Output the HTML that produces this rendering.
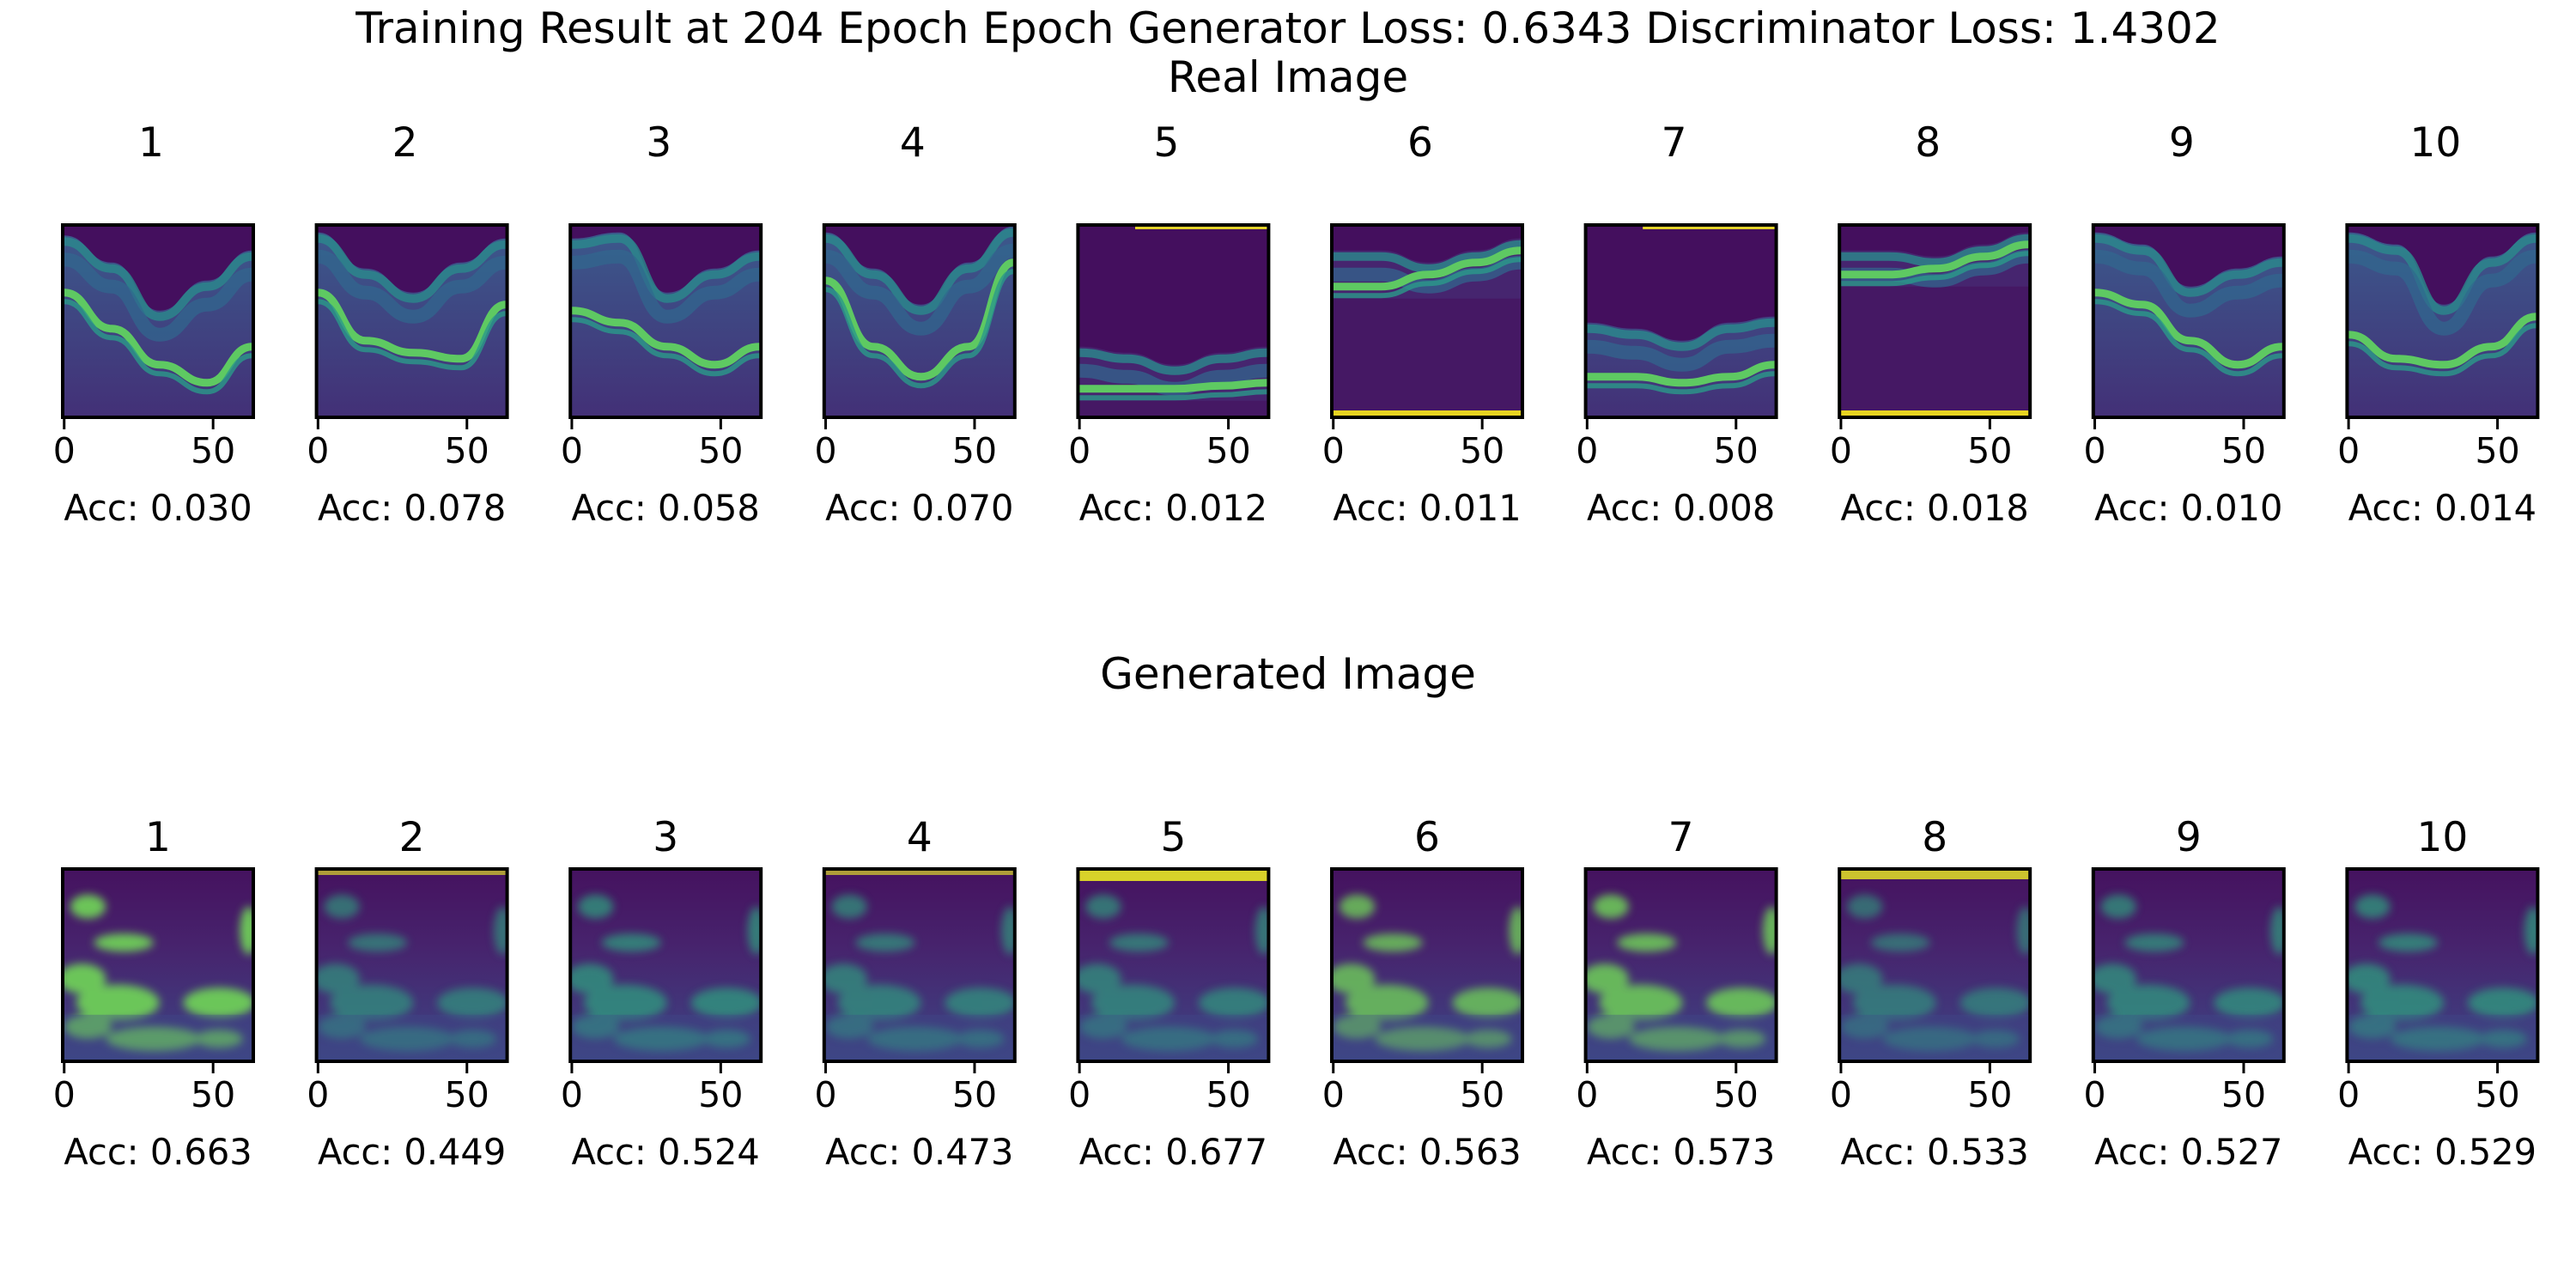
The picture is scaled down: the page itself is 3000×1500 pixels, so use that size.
<!DOCTYPE html>
<html><head><meta charset="utf-8">
<style>
html,body{margin:0;padding:0;background:#fff;}
svg{display:block;font-family:"DejaVu Sans","Liberation Sans",sans-serif;}
</style></head>
<body>
<svg id="fig" width="3000" height="1500" viewBox="0 0 3000 1500" xmlns="http://www.w3.org/2000/svg">
<rect width="3000" height="1500" fill="#fff"/>
<text x="1500" y="50" font-size="50" text-anchor="middle">Training Result at 204 Epoch Epoch Generator Loss: 0.6343 Discriminator Loss: 1.4302</text>
<text x="1500" y="107" font-size="50" text-anchor="middle">Real Image</text>
<text x="1500" y="802" font-size="50" text-anchor="middle">Generated Image</text>
<defs>
<linearGradient id="gDeep" x1="0" y1="0" x2="0" y2="1"><stop offset="0" stop-color="#3b5a8c"/><stop offset="1" stop-color="#433077"/></linearGradient>
<linearGradient id="gGen" x1="0" y1="0" x2="0" y2="1"><stop offset="0" stop-color="#45125f"/><stop offset="0.4" stop-color="#47236d"/><stop offset="1" stop-color="#3d4584"/></linearGradient>
<filter id="blur" x="-20%" y="-20%" width="140%" height="140%"><feGaussianBlur stdDeviation="5"/></filter>
</defs>
<g id="panels"></g>
</svg>
<script>
const panelLabels = ["1","2","3","4","5","6","7","8","9","10"];
const realAcc = ["0.030","0.078","0.058","0.070","0.012","0.011","0.008","0.018","0.010","0.014"];
const genAcc = ["0.663","0.449","0.524","0.473","0.677","0.563","0.573","0.533","0.527","0.529"];
const tickValues = [0, 50];
// tissue top boundary at x = 0,16,32,48,63 (image rows)
const realTop = [[3,12,28,18,8],[2,14,22,12,4],[4,2,22,14,8],[2,14,26,12,0],[40,42,46,42,40],[8,8,12,8,4],[32,34,38,32,30],[8,8,10,6,2],[2,6,20,14,10],[2,6,26,10,2]];
const realBand = [[22,34,46,52,40],[22,38,42,44,26],[28,32,40,46,40],[18,40,50,40,12],[54,54,54,53,52],[20,20,16,12,8],[50,50,52,50,46],[16,16,14,10,6],[22,26,38,46,40],[36,44,46,40,30]];
const realEdgeLine = ["none","none","none","none","top","bottom","top","bottom","none","none"];
const genBright = [1.0,0.45,0.6,0.5,0.5,0.75,0.85,0.4,0.55,0.6];
const genTopBar = [0,0.3,0,0.3,1,0,0,0.8,0,0];

const NS = "http://www.w3.org/2000/svg";
const X0 = 73, DX = 295.6, W = 222, H = 224;
const rowTop = [262, 1012];
const g = document.getElementById('panels');
function el(tag, attrs, parent){const e=document.createElementNS(NS,tag);for(const k in attrs)e.setAttribute(k,attrs[k]);(parent||g).appendChild(e);return e;}
function sx(v){return (v+0.5)/64*W;}
function sy(v){return (v+0.5)/64*H;}
const xs=[0,16,32,48,63];
function curve(ys,off){let d="";ys.forEach((y,i)=>{const px=sx(xs[i]),py=sy(y+(off||0));if(i==0)d+=`M${-2},${py} L${px},${py}`;else{const ppx=sx(xs[i-1]),ppy=sy(ys[i-1]+(off||0));const mx=(ppx+px)/2;d+=` C${mx},${ppy} ${mx},${py} ${px},${py}`;}});d+=` L${W+2},${sy(ys[ys.length-1]+(off||0))}`;return d;}

for(let r=0;r<2;r++){
 for(let i=0;i<10;i++){
  const x=X0+i*DX, y=rowTop[r];
  const pg=el('g',{transform:`translate(${x},${y})`});
  
  
  const cid='clip'+r+'_'+i;
  const cp=el('clipPath',{id:cid},pg);el('rect',{x:0,y:0,width:W,height:H},cp);
  const im=el('g',{'clip-path':`url(#${cid})`},pg);
  
  
  if(r==0){
   const dark=(i==4||i==5||i==7);
   el('rect',{x:0,y:0,width:W,height:H,fill:dark?'#46256f':'url(#gDeep)'},im);
   if(dark) el('rect',{x:0,y:sy(realBand[i][0]+4),width:W,height:H,fill:'#44135f',opacity:0.7},im);
   el('path',{d:curve(realTop[i],0)+` L${W+2},-2 L-2,-2 Z`,fill:'#440f5e'},im);
   el('path',{d:curve(realTop[i],2),fill:'none',stroke:'#2a8a8c','stroke-width':10,opacity:0.8},im);
   el('path',{d:curve(realTop[i],8),fill:'none',stroke:'#31688e','stroke-width':16,opacity:0.7},im);
   el('path',{d:curve(realBand[i],0),fill:'none',stroke:'#5ec962','stroke-width':9},im);
   el('path',{d:curve(realBand[i],3),fill:'none',stroke:'#2a9a8a','stroke-width':6,opacity:0.8},im);
   if(realEdgeLine[i]=='top') el('rect',{x:W*0.3,y:0,width:W*0.7,height:5,fill:'#e3d22a'},im);
   if(realEdgeLine[i]=='bottom') el('rect',{x:0,y:H-8,width:W,height:8,fill:'#e8d520'},im);
  } else {
   const b=genBright[i];
   el('rect',{x:0,y:0,width:W,height:H,fill:'url(#gGen)'},im);
   const bl=el('g',{filter:'url(#blur)',opacity:0.35+0.6*b},im);
   const blobs=[[8,12,6,4],[20,24,10,3],[6,36,8,5],[18,44,14,6],[52,44,12,5],[8,52,8,4],[30,56,16,4],[52,56,8,3],[62,20,3,8]];
   blobs.forEach(q=>el('ellipse',{cx:sx(q[0]),cy:sy(q[1]),rx:q[2]/64*W,ry:q[3]/64*H,fill:b>0.7?'#6ece58':'#2fa37f'},bl));
   el('rect',{x:0,y:sy(48),width:W,height:H,fill:'#3e4a89',opacity:0.35},im);
   if(genTopBar[i]>0) el('rect',{x:0,y:0,width:W,height:4+10*genTopBar[i],fill:'#d8d22a',opacity:0.6+0.4*genTopBar[i]},im);
  }
  el('rect',{x:0,y:0,width:W,height:H,fill:'none',stroke:'#000','stroke-width':4},pg);
  tickValues.forEach(t=>{
   const tx=sx(t);
   const tk=el('line',{x1:tx,y1:H,x2:tx,y2:H+14,stroke:'#000','stroke-width':3},pg);
   
   
   const tl=el('text',{x:tx,y:H+53,'font-size':41,'text-anchor':'middle'},pg);
   
   
   tl.textContent=t;
  });
  const tt=el('text',{x:W/2-(r==0?8:0),y:r==0?-80:-21,'font-size':47,'text-anchor':'middle'},pg);
  
  
  tt.textContent=panelLabels[i];
  const ac=el('text',{x:W/2,y:H+120,'font-size':41.5,'text-anchor':'middle'},pg);
  
  
  ac.textContent='Acc: '+(r==0?realAcc[i]:genAcc[i]);
 }
}
</script>
</body></html>
